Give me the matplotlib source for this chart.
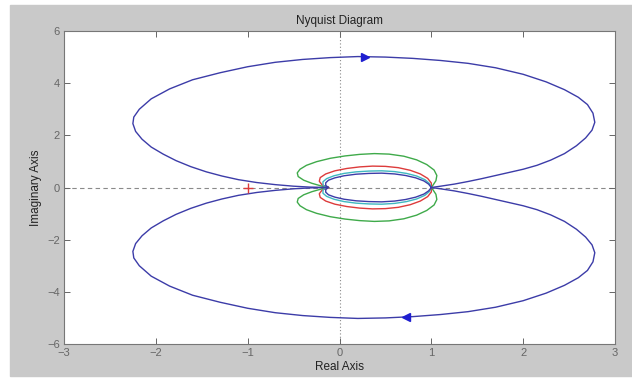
import numpy as np
import matplotlib
matplotlib.use('Agg')
import matplotlib.pyplot as plt
from matplotlib.patches import Rectangle

plt.rcParams['font.family'] = ['Liberation Sans', 'DejaVu Sans']

# --- data (upper half, lower half is the conjugate) --- #

# big blue lobe, from (1,0) round the top and back to the origin
big_x = [1.00, 1.10, 1.25, 1.40, 1.55, 1.70, 1.85, 2.00, 2.15, 2.30, 2.45, 2.58,
         2.68, 2.75, 2.78, 2.76, 2.70, 2.60, 2.45, 2.25, 2.00, 1.70, 1.40, 1.10,
         0.80, 0.50, 0.20, -0.10, -0.40, -0.70, -1.00, -1.30, -1.60, -1.85,
         -2.05, -2.18, -2.24, -2.25, -2.22, -2.15, -2.05, -1.92, -1.78, -1.62,
         -1.45, -1.28, -1.10, -0.90, -0.70, -0.50, -0.32, -0.12]
big_y = [0.00, 0.05, 0.13, 0.23, 0.34, 0.46, 0.58, 0.70, 0.85, 1.05, 1.30, 1.60,
         1.90, 2.20, 2.50, 2.85, 3.18, 3.46, 3.75, 4.05, 4.34, 4.59, 4.76, 4.87,
         4.95, 5.00, 5.02, 4.98, 4.91, 4.80, 4.63, 4.40, 4.13, 3.78,
         3.40, 3.00, 2.70, 2.45, 2.15, 1.85, 1.55, 1.28, 1.03, 0.80,
         0.60, 0.44, 0.30, 0.19, 0.11, 0.05, 0.015, 0.00]

# small blue loop that closes the blue curve
blue_x = [-0.12, -0.15, -0.15, -0.12, -0.05, 0.05, 0.18, 0.32, 0.46, 0.60,
          0.72, 0.83, 0.92, 0.97, 1.00]
blue_y = [0.00, 0.08, 0.18, 0.28, 0.37, 0.45, 0.51, 0.54, 0.55, 0.52,
          0.46, 0.37, 0.25, 0.13, 0.00]

cyan_x = [-0.15, -0.18, -0.18, -0.14, -0.06, 0.05, 0.18, 0.32, 0.46, 0.60,
          0.73, 0.84, 0.93, 0.98, 1.00]
cyan_y = [0.00, 0.10, 0.22, 0.34, 0.45, 0.54, 0.60, 0.63, 0.64, 0.61,
          0.54, 0.44, 0.30, 0.15, 0.00]

red_x = [-0.12, -0.19, -0.22, -0.21, -0.15, -0.05, 0.08, 0.22, 0.36, 0.50,
         0.64, 0.77, 0.88, 0.96, 1.00, 1.00]
red_y = [0.00, 0.10, 0.24, 0.38, 0.52, 0.64, 0.73, 0.79, 0.82, 0.81,
         0.76, 0.66, 0.52, 0.35, 0.17, 0.00]

green_x = [-0.12, -0.20, -0.30, -0.39, -0.45, -0.46, -0.43, -0.36, -0.25, -0.10,
           0.06, 0.22, 0.38, 0.54, 0.70, 0.84, 0.95, 1.03, 1.06, 1.05, 1.02, 1.00]
green_y = [0.00, 0.06, 0.16, 0.28, 0.42, 0.56, 0.70, 0.85, 0.99, 1.12,
           1.21, 1.27, 1.30, 1.28, 1.20, 1.06, 0.88, 0.67, 0.46, 0.26, 0.10, 0.00]

x_ticks = [-3, -2, -1, 0, 1, 2, 3]
y_ticks = [-6, -4, -2, 0, 2, 4, 6]

blue = '#3c3ca8'
green = '#3faa4a'
red = '#dd3b3b'
cyan = '#3fb8c0'


def loop(xs, ys):
    # upper half then the mirrored lower half, back to the start
    xs = np.asarray(xs, float)
    ys = np.asarray(ys, float)
    return np.r_[xs, xs[::-1]], np.r_[ys, -ys[::-1]]


fig = plt.figure(figsize=(6.32, 3.81), dpi=100)
fig.patch.set_facecolor('white')
fig.patches.append(Rectangle((10 / 632, 5 / 381), 1, 1 - 10 / 381,
                             transform=fig.transFigure, color='#c9c9c9', zorder=-10))

ax = fig.add_axes([64 / 632, 1 - 344 / 381, (615 - 64) / 632, (344 - 31) / 381])
ax.set_facecolor('white')

# axis lines through the origin
ax.axhline(0, color='#8a8a8a', lw=0.8, ls=(0, (4, 3)), zorder=1)
ax.axvline(0, color='#8a8a8a', lw=0.8, ls=(0, (1, 2)), zorder=1)

# big blue curve: outer lobe + small loop, upper and lower halves
ux = np.r_[big_x, blue_x[1:]]
uy = np.r_[big_y, blue_y[1:]]
ax.plot(ux, uy, color=blue, lw=1.0, zorder=3)
ax.plot(ux, -uy, color=blue, lw=1.0, zorder=3)

for xs, ys, c in [(green_x, green_y, green), (red_x, red_y, red), (cyan_x, cyan_y, cyan)]:
    lx, ly = loop(xs, ys)
    ax.plot(lx, ly, color=c, lw=1.0, zorder=2)

# direction arrows
ax.plot(0.28, 5.02, marker='>', color='#1f1fd0', ms=6, zorder=4)
ax.plot(0.72, -4.97, marker='<', color='#1f1fd0', ms=6, zorder=4)

# critical point
ax.plot(-1, 0, marker='+', color=red, ms=7, mew=1.0, zorder=4)

ax.set_xlim(-3, 3)
ax.set_ylim(-6, 6)
ax.set_xticks(x_ticks)
ax.set_yticks(y_ticks)
ax.tick_params(direction='in', length=4, width=0.7, top=True, right=True,
               labelsize=8, colors='#666666', pad=3)
for s in ax.spines.values():
    s.set_color('#777777')
    s.set_linewidth(0.8)

ax.set_title('Nyquist Diagram', fontsize=8.5, color='#222222', pad=5)
ax.set_xlabel('Real Axis', fontsize=8.5, color='#222222', labelpad=2)
ax.set_ylabel('Imaginary Axis', fontsize=8.5, color='#222222', labelpad=4)

plt.savefig('out.png', dpi=100)
